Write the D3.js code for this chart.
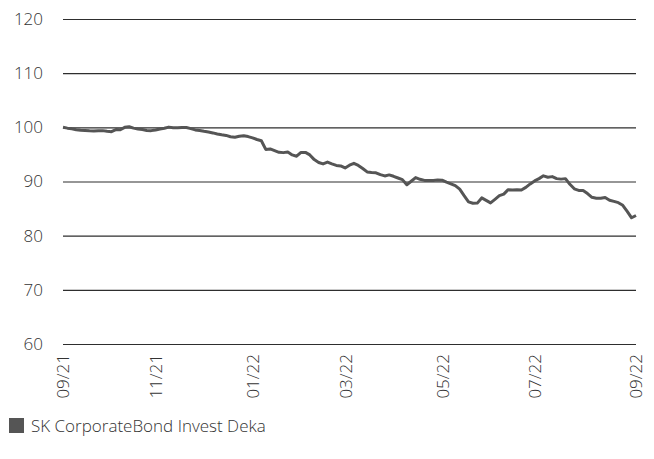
<!DOCTYPE html>
<html>
<head>
<meta charset="utf-8">
<script src="https://cdn.jsdelivr.net/npm/d3@7"></script>
<style>
  html, body { margin: 0; padding: 0; background: #fff; }
  svg { display: block; }
  text { font-family: "Open Sans", "DejaVu Sans", sans-serif; }
</style>
</head>
<body>
<svg id="chart" width="654" height="459"></svg>
<script>
// Fund series, indexed to 100 at the start; one observation every two trading days
const seriesName = "SK CorporateBond Invest Deka";
const values = [
  100.00, 99.85, 99.72, 99.56, 99.48, 99.43, 99.37, 99.34, 99.39, 99.39,
  99.26, 99.20, 99.59, 99.56, 100.00, 100.11, 99.85, 99.70, 99.59, 99.42,
  99.39, 99.52, 99.70, 99.83, 100.04, 99.93, 99.93, 99.98, 99.96, 99.76,
  99.52, 99.41, 99.26, 99.13, 98.97, 98.78, 98.62, 98.51, 98.27, 98.16,
  98.34, 98.45, 98.29, 98.05, 97.75, 97.53, 95.92, 96.02, 95.70, 95.39,
  95.33, 95.44, 94.91, 94.67, 95.37, 95.37, 94.91, 94.04, 93.51, 93.25,
  93.58, 93.25, 92.97, 92.88, 92.51, 93.01, 93.36, 92.97, 92.40, 91.77,
  91.68, 91.61, 91.26, 91.03, 91.22, 90.96, 90.65, 90.35, 89.40, 90.05,
  90.72, 90.41, 90.20, 90.20, 90.20, 90.26, 90.24, 89.87, 89.57, 89.24,
  88.58, 87.38, 86.24, 85.98, 86.01, 86.97, 86.51, 86.05, 86.70, 87.38,
  87.67, 88.49, 88.41, 88.47, 88.43, 88.91, 89.56, 90.11, 90.53, 91.05,
  90.79, 90.90, 90.53, 90.44, 90.53, 89.48, 88.65, 88.36, 88.34, 87.77,
  87.08, 86.92, 86.92, 87.05, 86.55, 86.33, 86.09, 85.61, 84.50, 83.30,
  83.72
];

// Month labels and the observation index where each one falls
const xTickLabels = ["09/21", "11/21", "01/22", "03/22", "05/22", "07/22", "09/22"];
const xTickIndex = [0, 21, 43, 64, 86, 107, 130];
const yTicks = [60, 70, 80, 90, 100, 110, 120];

const svg = d3.select("#chart");
const plotLeft = 63, plotRight = 636, plotTop = 19, plotBottom = 344;
const textColor = "#333";

const x = d3.scaleLinear().domain([0, values.length - 1]).range([plotLeft, plotRight]);
const y = d3.scaleLinear().domain([60, 120]).range([plotBottom, plotTop]);

// Horizontal grid with value labels
const yAxis = svg.append("g")
  .attr("transform", `translate(${plotLeft},0)`)
  .call(d3.axisLeft(y).tickValues(yTicks).tickSize(-(plotRight - plotLeft)).tickPadding(20));
yAxis.select(".domain").remove();
yAxis.selectAll(".tick line").attr("stroke", "#2e2e2e").attr("stroke-width", 1.2);
yAxis.selectAll(".tick text")
  .attr("fill", textColor)
  .style("font-size", "17px")
  .style("font-weight", 300);

// Month labels, rotated
const xAxis = svg.append("g")
  .attr("transform", `translate(0,${plotBottom})`)
  .call(d3.axisBottom(x).tickValues(xTickIndex)
    .tickFormat((d, i) => xTickLabels[i]).tickSize(0));
xAxis.select(".domain").remove();
xAxis.selectAll(".tick text")
  .attr("transform", "rotate(-90)")
  .attr("x", -10)
  .attr("y", 0)
  .attr("dy", "0.35em")
  .attr("text-anchor", "end")
  .attr("fill", textColor)
  .style("font-size", "17px")
  .style("font-weight", 300);

// Fund line
const line = d3.line()
  .x((d, i) => x(i))
  .y(d => y(d));
svg.append("path")
  .datum(values)
  .attr("fill", "none")
  .attr("stroke", "#555")
  .attr("stroke-width", 3)
  .attr("stroke-linejoin", "round")
  .attr("d", line);

// Legend
const legend = svg.append("g").attr("transform", "translate(9,418)");
legend.append("rect")
  .attr("width", 15).attr("height", 15)
  .attr("fill", "#555");
legend.append("text")
  .attr("x", 22).attr("y", 13.5)
  .attr("fill", textColor)
  .style("font-size", "17px")
  .style("font-weight", 300)
  .text(seriesName);
</script>
</body>
</html>
